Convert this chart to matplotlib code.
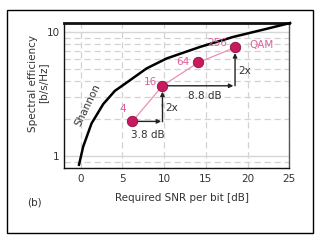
import matplotlib.pyplot as plt
from matplotlib.patches import Rectangle

# Shannon bound (dB, b/s/Hz)
shannon_snr = [-0.2, 0.3, 1.3, 2.7, 4.1, 5.5, 7.9, 10.3, 14.3, 18.3, 22.3, 25.1]
shannon_eff = [0.85, 1.19, 1.83, 2.62, 3.35, 3.90, 5.08, 6.11, 7.57, 9.12, 10.6, 11.8]

# QAM points
qam_labels = ['4', '16', '64', '256']
qam_snr = [6.2, 9.8, 14.1, 18.5]
qam_eff = [1.9, 3.68, 5.67, 7.5]

pink = '#c81a5e'
pink_txt = '#e0609c'
txt = '#333333'

fig = plt.figure(figsize=(3.2, 2.42), dpi=100)
ax = fig.add_axes([0.2, 0.3058, 0.704, 0.601])

ax.set_yscale('log')
ax.set_xlim(-2, 25)
ax.set_ylim(0.8, 11.9)

# grid
ax.grid(True, which='minor', axis='y', color='#d2d2d2', ls=(0, (5, 3)), lw=0.9)
ax.grid(True, which='major', axis='y', color='#d6d6d6', ls='-', lw=1.0)
ax.grid(True, which='major', axis='x', color='#d2d2d2', ls=(0, (5, 3)), lw=0.9)
ax.set_axisbelow(True)

ax.set_xticks([0, 5, 10, 15, 20, 25])
ax.set_yticks([1, 10])
ax.set_yticklabels(['1', '10'])
ax.tick_params(axis='both', which='both', length=0, labelsize=7.5, labelcolor=txt)
ax.tick_params(axis='x', pad=4)
ax.tick_params(axis='y', pad=3)
ax.yaxis.set_minor_formatter(plt.NullFormatter())

for s in ['left', 'bottom']:
    ax.spines[s].set_color('#111111')
    ax.spines[s].set_linewidth(1.0)
ax.spines['right'].set_color('#555555')
ax.spines['right'].set_linewidth(1.0)
ax.spines['top'].set_color('#111111')
ax.spines['top'].set_linewidth(2.0)

# Shannon curve
ax.plot(shannon_snr, shannon_eff, color='black', lw=1.8, clip_on=False, zorder=3)
ax.text(0.9, 2.55, 'Shannon', rotation=64, rotation_mode='anchor',
        ha='center', va='center', fontsize=7.5, color=txt)

# QAM
ax.plot(qam_snr, qam_eff, color='#e890b8', lw=0.9, zorder=2)
ax.plot(qam_snr, qam_eff, 'o', ms=7.5, mfc=pink, mec='#8a1040', mew=0.6, ls='none', zorder=5)

qam_lx = [5.1, 8.3, 12.2, 16.3]
qam_ly = [2.39, 3.96, 5.74, 8.16]
for lab, lx, ly in zip(qam_labels, qam_lx, qam_ly):
    ax.text(lx, ly, lab, color=pink_txt, fontsize=7.5, ha='center', va='center')
ax.text(21.7, 7.82, 'QAM', color=pink_txt, fontsize=7.5, ha='center', va='center')

# arrows
arr = dict(arrowstyle='-|>', color='#222222', lw=1.0, mutation_scale=6,
           shrinkA=0, shrinkB=0)
ax.annotate('', xy=(9.65, qam_eff[0]), xytext=(qam_snr[0], qam_eff[0]), arrowprops=arr, zorder=4)
ax.plot([9.8, 9.8], [qam_eff[0], 2.6], color='#222222', lw=1.0, zorder=4)
ax.annotate('', xy=(9.8, 3.3), xytext=(9.8, 2.5), arrowprops=arr, zorder=4)
ax.annotate('', xy=(18.3, qam_eff[1]), xytext=(qam_snr[1], qam_eff[1]), arrowprops=arr, zorder=4)
ax.annotate('', xy=(18.5, 6.75), xytext=(18.5, qam_eff[1]), arrowprops=arr, zorder=4)

ax.text(8.07, 1.48, '3.8 dB', fontsize=7.5, color=txt, ha='center', va='center')
ax.text(10.9, 2.42, '2x', fontsize=7.5, color=txt, ha='center', va='center')
ax.text(14.9, 3.04, '8.8 dB', fontsize=7.5, color=txt, ha='center', va='center')
ax.text(19.7, 4.86, '2x', fontsize=7.5, color=txt, ha='center', va='center')

# labels
fig.text(0.569, 0.182, 'Required SNR per bit [dB]', fontsize=7.5, color=txt,
         ha='center', va='center')
fig.text(0.119, 0.657, 'Spectral efficiency\n[b/s/Hz]', fontsize=7.5, color=txt,
         rotation=90, ha='center', va='center', multialignment='center',
         linespacing=1.05)
fig.text(0.109, 0.165, '(b)', fontsize=7.5, color=txt, ha='center', va='center')

# outer frame
fig.patches.append(Rectangle((0.023, 0.037), 0.955, 0.921, transform=fig.transFigure,
                             fill=False, ec='black', lw=1.0))

fig.savefig('out.png', dpi=100)
